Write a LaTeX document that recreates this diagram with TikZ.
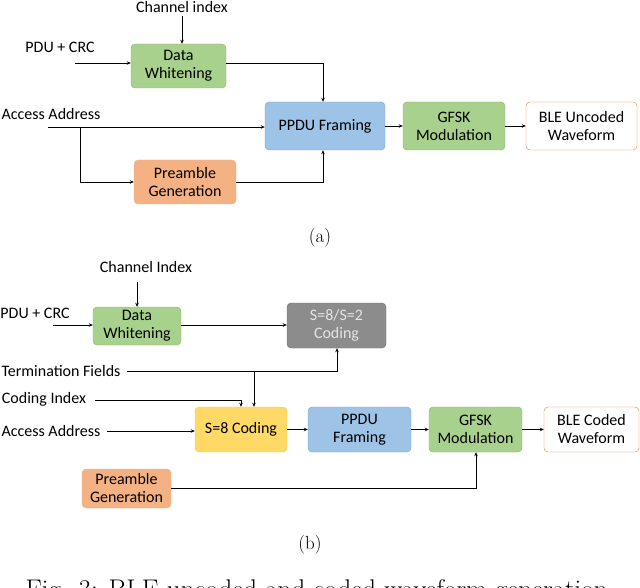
\documentclass[tikz,border=0pt]{standalone}
\usepackage{fontspec}
\setmainfont{Carlito}
\newfontfamily\capfont{Latin Modern Roman}
\usetikzlibrary{arrows.meta}
\definecolor{gfill}{RGB}{169,209,142}
\definecolor{gline}{RGB}{130,180,100}
\definecolor{bfill}{RGB}{157,195,230}
\definecolor{bline}{RGB}{120,160,210}
\definecolor{ofill}{RGB}{244,177,131}
\definecolor{oline}{RGB}{237,125,49}
\definecolor{yfill}{RGB}{255,217,102}
\definecolor{yline}{RGB}{250,200,70}
\definecolor{grfill}{RGB}{140,140,140}
\begin{document}
\begin{tikzpicture}[x=1pt,y=-1pt,
  box/.style={draw, rounded corners=4pt, minimum width=#1, align=center, font=\fontsize{16}{18}\selectfont, inner sep=1pt},
  green/.style={fill=gfill, draw=gline},
  blue/.style={fill=bfill, draw=bline},
  orange/.style={fill=ofill, draw=oline!60},
  yellow/.style={fill=yfill, draw=yline},
  grey/.style={fill=grfill, draw=grfill!80!black, text=black!10},
  white/.style={fill=white, draw=oline},
  lbl/.style={font=\fontsize{16}{18}\selectfont, inner sep=0pt},
  arr/.style={-{Stealth[length=4pt,width=3.5pt]}, line width=0.7pt},
  ln/.style={line width=0.7pt}]
\useasboundingbox (0,0) rectangle (640,588);
% ---------- (a)
\node[box=95pt, minimum height=44pt, green] (dw) at (178.5,66) {Data\\Whitening};
\node[box=120pt, minimum height=48pt, blue] (pp) at (325,126) {PPDU Framing};
\node[box=102pt, minimum height=44pt, orange] (pg) at (185,182) {Preamble\\Generation};
\node[box=102pt, minimum height=48pt, green] (gf) at (454,126) {GFSK\\Modulation};
\node[box=111pt, minimum height=48pt, white] (ble) at (581.5,126) {BLE Uncoded\\Waveform};
\node[lbl] (ci) at (182,7) {Channel index};
\node[lbl] (pdu) at (60,47) {PDU + CRC};
\node[lbl] (aa) at (51,114) {Access Address};
\coordinate (pduS) at (75,63);
\coordinate (aaS) at (48,127);
\coordinate (br) at (80,127);
\draw[arr] (182,16) -- (dw.north -| 182,0);
\draw[arr] (pduS) -- (pduS -| dw.west);
\draw[arr] (dw.east |- 0,63) -| (pp.north -| 323,0);
\draw[arr] (aaS) -- (aaS -| pp.west);
\draw[arr] (br) |- (pg.west);
\draw[arr] (pg.east) -| (pp.south -| 323,0);
\draw[arr] (pp) -- (gf);
\draw[arr] (gf) -- (ble);
\node[font=\capfont\fontsize{19}{22}\selectfont] (la) at (320,238) {(a)};
% ---------- (b)
\node[box=88pt, minimum height=38pt, green] (dw2) at (137,326) {Data\\Whitening};
\node[box=99pt, minimum height=45pt, grey] (sc) at (336.5,325.5) {S=8/S=2\\Coding};
\node[box=92pt, minimum height=45pt, yellow] (s8) at (241,429.5) {S=8 Coding};
\node[box=103pt, minimum height=45pt, blue] (pp2) at (359.5,429.5) {PPDU\\Framing};
\node[box=93pt, minimum height=45pt, green] (gf2) at (475.5,429.5) {GFSK\\Modulation};
\node[box=95pt, minimum height=45pt, white] (ble2) at (591.5,429.5) {BLE Coded\\Waveform};
\node[box=89pt, minimum height=39pt, orange] (pg2) at (126.5,488.5) {Preamble\\Generation};
\node[lbl] (ci2) at (146,267) {Channel Index};
\node[lbl] (pdu2) at (35,313) {PDU + CRC};
\node[lbl] (tf) at (61,371) {Termination Fields};
\node[lbl] (cix) at (44,399) {Coding Index};
\node[lbl] (aa2) at (51,431) {Access Address};
\coordinate (tfS) at (127,371);
\coordinate (br2) at (254,371);
\coordinate (cixS) at (95,400);
\coordinate (aa2S) at (107,431);
\draw[arr] (137,282) -- (dw2.north -| 137,0);
\draw[arr] (53,325) -- (dw2.west |- 0,325);
\draw[arr] (dw2.east |- 0,325) -- (sc.west |- 0,325);
\draw[arr] (tfS) -| (sc.south -| 337,0);
\draw[arr] (br2) -- (s8.north -| br2);
\draw[arr] (cixS) -| (s8.north -| 241,0);
\draw[arr] (aa2S) -- (aa2S -| s8.west);
\draw[arr] (s8) -- (pp2);
\draw[arr] (pp2) -- (gf2);
\draw[arr] (gf2) -- (ble2);
\draw[arr] (pg2.east) -| (gf2.south -| 476,0);
\node[font=\capfont\fontsize{19}{22}\selectfont] (lb) at (310,545) {(b)};
\node[font=\capfont\fontsize{27}{30}\selectfont, anchor=base] (cap) at (320,598) {Fig. 3: BLE uncoded and coded waveform generation.};
\end{tikzpicture}
\end{document}
